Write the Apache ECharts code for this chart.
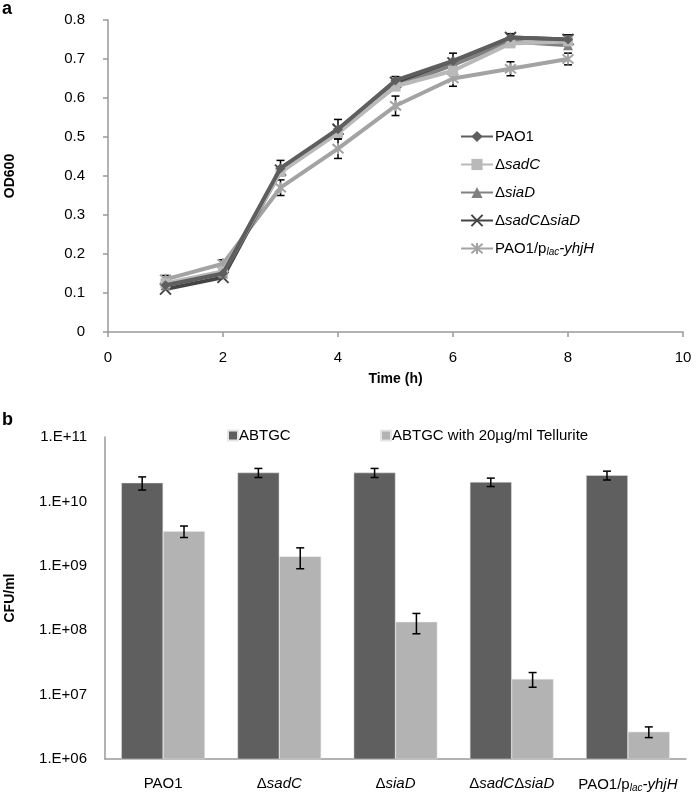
<!DOCTYPE html>
<html>
<head>
<meta charset="utf-8">
<script src="https://cdn.jsdelivr.net/npm/echarts@6/dist/echarts.min.js"></script>
<style>
html,body{margin:0;padding:0;background:#fff;}
#c{width:697px;height:795px;}
</style>
</head>
<body>
<div id="c"></div>
<script>
// ---------- Panel a data ----------
const timeH = [1, 2, 3, 4, 5, 6, 7, 8];
const pao1 = [0.12, 0.15, 0.42, 0.52, 0.645, 0.695, 0.755, 0.75];
const sadC = [0.125, 0.155, 0.41, 0.51, 0.63, 0.67, 0.74, 0.745];
const siaD = [0.12, 0.15, 0.41, 0.515, 0.63, 0.685, 0.745, 0.735];
const sadCsiaD = [0.11, 0.14, 0.415, 0.52, 0.64, 0.69, 0.755, 0.75];
const yhjH = [0.135, 0.175, 0.37, 0.47, 0.58, 0.65, 0.675, 0.70];
const pao1Err = [0.005, 0.005, 0.02, 0.025, 0.01, 0.02, 0.01, 0.012];
const yhjHErr = [0.01, 0.01, 0.02, 0.025, 0.025, 0.02, 0.018, 0.015];
const lineNames = ['PAO1', 'ΔsadC', 'ΔsiaD', 'ΔsadCΔsiaD', 'PAO1/plac-yhjH'];
const lineLegendRich = ['{n|PAO1}', '{n|Δ}{i|sadC}', '{n|Δ}{i|siaD}', '{n|Δ}{i|sadC}{n|Δ}{i|siaD}', '{n|PAO1/p}{s|lac}{i|-yhjH}'];

// ---------- Panel b data ----------
const strains = ['PAO1', 'ΔsadC', 'ΔsiaD', 'ΔsadCΔsiaD', 'PAO1/plac-yhjH'];
const strainRich = ['{n|PAO1}', '{n|Δ}{i|sadC}', '{n|Δ}{i|siaD}', '{n|Δ}{i|sadC}{n|Δ}{i|siaD}', '{n|PAO1/p}{s|lac}{i|-yhjH}'];
const abtgc = [1.95e10, 2.8e10, 2.8e10, 2.0e10, 2.55e10];
const abtgcErr = [0.45e10, 0.45e10, 0.45e10, 0.3e10, 0.4e10];
const tellurite = [3.45e9, 1.4e9, 1.35e8, 1.75e7, 2.65e6];
const telluriteErr = [0.7e9, 0.5e9, 0.47e8, 0.45e7, 0.5e6];
const barNames = ['ABTGC', 'ABTGC with 20µg/ml Tellurite'];

const FONT = '"Liberation Sans", Arial, sans-serif';
const richStyles = {
  n: {fontFamily: FONT, fontSize: 15, color: '#000'},
  i: {fontFamily: FONT, fontSize: 15, fontStyle: 'italic', color: '#000'},
  s: {fontFamily: FONT, fontSize: 10, fontStyle: 'italic', color: '#000', padding: [7, 0, 0, 0]}
};

const xPath = 'path://M0,0 L10,10 M10,0 L0,10';
const starPath = 'path://M0,0 L10,10 M10,0 L0,10 M5,-1 L5,11';
const lineColors = ['#5e5e5e', '#b9b9b9', '#808080', '#444444', '#a3a3a3'];
const lineSymbols = ['diamond', 'rect', 'triangle', xPath, starPath];
const lineData = [pao1, sadC, siaD, sadCsiaD, yhjH];

const chart = echarts.init(document.getElementById('c'), null, {renderer: 'canvas'});

function errSeries(name, xi, yi, xs, vals, errs, offsetFrac) {
  return {
    type: 'custom', name: name, xAxisIndex: xi, yAxisIndex: yi, silent: true, z: 5,
    data: vals.map((v, k) => [xs[k], v - errs[k], v + errs[k]]),
    renderItem: function (params, api) {
      const x = api.value(0);
      const lo = api.coord([x, api.value(1)]);
      const hi = api.coord([x, api.value(2)]);
      let dx = 0;
      if (offsetFrac) {
        const band = api.size([1, 0])[0];
        dx = band * offsetFrac;
      }
      const cx = lo[0] + dx, cap = 4;
      const st = {stroke: '#000', lineWidth: 1.5};
      return {type: 'group', children: [
        {type: 'line', shape: {x1: cx, y1: lo[1], x2: cx, y2: hi[1]}, style: st},
        {type: 'line', shape: {x1: cx - cap, y1: lo[1], x2: cx + cap, y2: lo[1]}, style: st},
        {type: 'line', shape: {x1: cx - cap, y1: hi[1], x2: cx + cap, y2: hi[1]}, style: st}
      ]};
    }
  };
}

const series = [];
lineNames.forEach((nm, k) => {
  series.push({
    type: 'line', name: nm, xAxisIndex: 0, yAxisIndex: 0,
    data: timeH.map((t, j) => [t, lineData[k][j]]),
    symbol: lineSymbols[k], symbolSize: (k >= 3 ? 11 : 10),
    lineStyle: {color: lineColors[k], width: 4},
    itemStyle: {color: lineColors[k], borderColor: lineColors[k], borderWidth: (k >= 3 ? 2 : 0)},
    z: 10 - k
  });
});
series.push(errSeries('errA1', 0, 0, timeH, pao1, pao1Err, 0));
series.push(errSeries('errA5', 0, 0, timeH, yhjH, yhjHErr, 0));

series.push({
  type: 'bar', name: barNames[0], xAxisIndex: 1, yAxisIndex: 1,
  data: abtgc, barWidth: '36%', barGap: '0%', itemStyle: {color: '#5f5f5f', borderColor: '#e6e6e6', borderWidth: 0.5}
});
series.push({
  type: 'bar', name: barNames[1], xAxisIndex: 1, yAxisIndex: 1,
  data: tellurite, barWidth: '36%', barGap: '0%', itemStyle: {color: '#b3b3b3', borderColor: '#e6e6e6', borderWidth: 0.5}
});
const idx = strains.map((s, k) => k);
series.push(errSeries('errB1', 1, 1, idx, abtgc, abtgcErr, -0.18));
series.push(errSeries('errB2', 1, 1, idx, tellurite, telluriteErr, 0.18));

const axisLineGray = {show: true, lineStyle: {color: '#999', width: 1.5}};

const option = {
  animation: false,
  backgroundColor: '#fff',
  textStyle: {fontFamily: FONT},
  graphic: [
    {type: 'text', left: 2, top: 0, style: {text: 'a', font: 'bold 18px ' + FONT, fill: '#000'}},
    {type: 'text', left: 2, top: 411, style: {text: 'b', font: 'bold 18px ' + FONT, fill: '#000'}}
  ],
  grid: [
    {left: 108, right: 14, top: 20, bottom: 463, containLabel: false, outerBoundsMode: 'none'},
    {left: 105, right: 11, top: 437, bottom: 36, containLabel: false, outerBoundsMode: 'none'}
  ],
  legend: [
    {
      data: lineNames, orient: 'vertical', left: 455, top: 124, itemWidth: 32, itemHeight: 14, itemGap: 13,
      formatter: function (name) { return lineLegendRich[lineNames.indexOf(name)]; },
      textStyle: {rich: richStyles, padding: [0, 0, 0, -3]}
    },
    {
      data: [barNames[0]], left: 222, top: 423, icon: 'rect', itemWidth: 10, itemHeight: 10, itemGap: 0,
      textStyle: {fontFamily: FONT, fontSize: 15, color: '#000', padding: [0, 0, 0, -4]}
    },
    {
      data: [barNames[1]], left: 375, top: 423, icon: 'rect', itemWidth: 10, itemHeight: 10, itemGap: 0,
      textStyle: {fontFamily: FONT, fontSize: 15, color: '#000', padding: [0, 0, 0, -4]}
    }
  ],
  xAxis: [
    {
      type: 'value', gridIndex: 0, min: 0, max: 10, interval: 2,
      name: 'Time (h)', nameLocation: 'middle', nameGap: 40,
      nameTextStyle: {fontFamily: FONT, fontSize: 14, fontWeight: 'bold', color: '#000'},
      axisLine: axisLineGray, axisTick: {show: true, length: 5, lineStyle: {color: '#999', width: 1.5}},
      splitLine: {show: false},
      axisLabel: {fontFamily: FONT, fontSize: 15, color: '#000', margin: 18}
    },
    {
      type: 'category', gridIndex: 1, data: strains,
      axisLine: axisLineGray, axisTick: {show: false},
      axisLabel: {
        margin: 17, interval: 0,
        formatter: function (v) { return strainRich[strains.indexOf(v)]; },
        rich: richStyles
      }
    }
  ],
  yAxis: [
    {
      type: 'value', gridIndex: 0, min: 0, max: 0.8, interval: 0.1,
      name: 'OD600', nameLocation: 'middle', nameGap: 91, nameRotate: 90,
      nameTextStyle: {fontFamily: FONT, fontSize: 14, fontWeight: 'bold', color: '#000'},
      axisLine: axisLineGray, axisTick: {show: true, length: 5, lineStyle: {color: '#999', width: 1.5}},
      splitLine: {show: false},
      axisLabel: {fontFamily: FONT, fontSize: 15, color: '#000', margin: 23}
    },
    {
      type: 'log', gridIndex: 1, min: 1e6, max: 1e11, logBase: 10, interval: 1,
      name: 'CFU/ml', nameLocation: 'middle', nameGap: 88, nameRotate: 90,
      nameTextStyle: {fontFamily: FONT, fontSize: 14, fontWeight: 'bold', color: '#000'},
      axisLine: axisLineGray, axisTick: {show: false},
      splitLine: {show: false},
      axisLabel: {
        fontFamily: FONT, fontSize: 15, color: '#000', margin: 18,
        formatter: function (v) { return '1.E+' + String(Math.round(Math.log10(v))).padStart(2, '0'); }
      }
    }
  ],
  series: series
};
chart.setOption(option);
</script>
</body>
</html>
